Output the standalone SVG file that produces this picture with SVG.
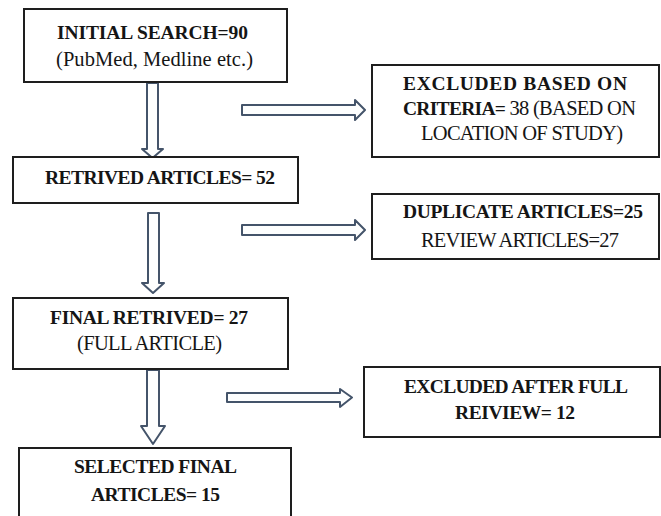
<svg xmlns="http://www.w3.org/2000/svg" width="661" height="516" viewBox="0 0 661 516">
<style>
.box{fill:#fff;stroke:#1e1e1e;stroke-width:2}
.arr{fill:#fdfefe;stroke:#44546a;stroke-width:2;stroke-linejoin:round}
text{font-family:"Liberation Serif","Times New Roman",serif;font-size:20.5px;fill:#151515;text-anchor:middle}
.b{font-weight:bold;font-size:19.5px}
</style>
<rect width="661" height="516" fill="#fff"/>
<g id="connectors">
<polygon class="arr" points="147,83 158,83 158,149 163,149 152.5,158 142,149 147,149"/>
<polygon class="arr" points="148,213 159,213 159,283 164,283 153,293 142,283 148,283"/>
<polygon class="arr" points="147,370 159,370 159,426 165,426 153,444 141,426 147,426"/>
<polygon class="arr" points="242,105 355,105 355,100 365,110 355,120 355,115 242,115"/>
<polygon class="arr" points="242,225 355,225 355,220 365,230 355,240 355,235 242,235"/>
<polygon class="arr" points="227,393 340,393 340,389 352,397.5 340,407 340,402 227,402"/>
</g>
<g id="n1">
<rect class="box" x="24" y="9" width="263" height="73"/>
<text class="b" x="152.5" y="39" textLength="191">INITIAL SEARCH=90</text>
<text x="154.5" y="66" textLength="197">(PubMed, Medline etc.)</text>
</g>
<g id="n2">
<rect class="box" x="13" y="157" width="285" height="46"/>
<text class="b" x="160" y="184" textLength="230">RETRIVED ARTICLES= 52</text>
</g>
<g id="n3">
<rect class="box" x="372" y="65" width="287" height="92"/>
<text class="b" x="515" y="90" textLength="224">EXCLUDED BASED ON</text>
<text x="519.5" y="115" textLength="233"><tspan class="b">CRITERIA=</tspan> 38 (BASED ON</text>
<text x="522" y="140" textLength="202">LOCATION OF STUDY)</text>
</g>
<g id="n4">
<rect class="box" x="372" y="194" width="287" height="65"/>
<text class="b" x="523" y="218" textLength="240">DUPLICATE ARTICLES=25</text>
<text x="520" y="247" textLength="198">REVIEW ARTICLES=27</text>
</g>
<g id="n5">
<rect class="box" x="13" y="298" width="275" height="71"/>
<text class="b" x="149" y="324" textLength="198">FINAL RETRIVED= 27</text>
<text x="149.5" y="350" textLength="145">(FULL ARTICLE)</text>
</g>
<g id="n6">
<rect class="box" x="19" y="448" width="272" height="80"/>
<text class="b" x="155.5" y="473" textLength="163">SELECTED FINAL</text>
<text class="b" x="155.5" y="501" textLength="129">ARTICLES= 15</text>
</g>
<g id="n7">
<rect class="box" x="364" y="367" width="296" height="70"/>
<text class="b" x="516" y="393" textLength="224">EXCLUDED AFTER FULL</text>
<text class="b" x="515" y="419" textLength="120">REIVIEW= 12</text>
</g>
</svg>
